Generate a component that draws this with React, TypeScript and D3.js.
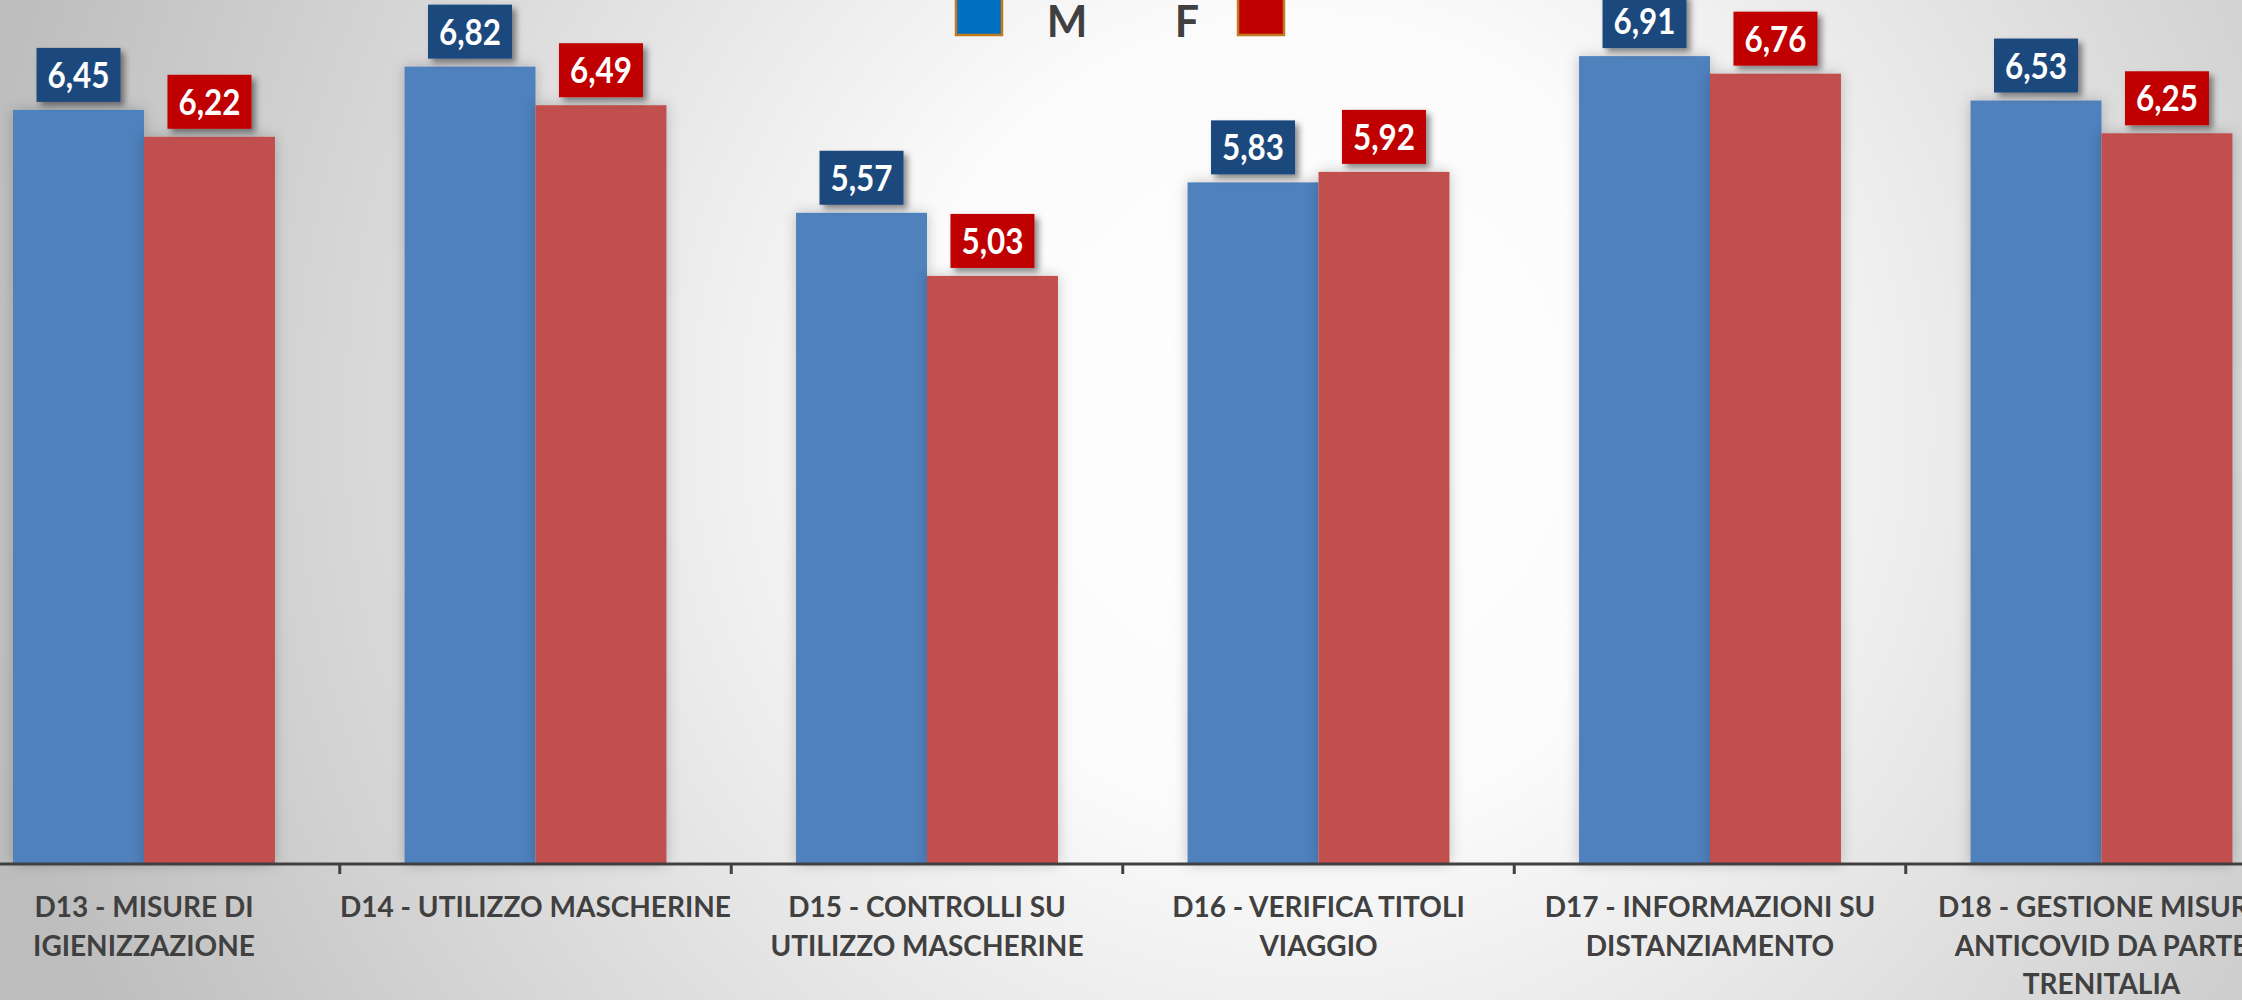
import React from 'react';
import * as d3 from 'd3';

// categories (label lines as they wrap on the axis)
const categories = ['D13', 'D14', 'D15', 'D16', 'D17', 'D18'];
const categoryLines = [
  ['D13 - MISURE DI', 'IGIENIZZAZIONE'],
  ['D14 - UTILIZZO MASCHERINE'],
  ['D15 - CONTROLLI SU', 'UTILIZZO MASCHERINE'],
  ['D16 - VERIFICA TITOLI', 'VIAGGIO'],
  ['D17 - INFORMAZIONI SU', 'DISTANZIAMENTO'],
  ['D18 - GESTIONE MISURE', 'ANTICOVID DA PARTE', 'TRENITALIA'],
];
const seriesKeys = ['M', 'F'];
const valuesM = [6.45, 6.82, 5.57, 5.83, 6.91, 6.53];
const valuesF = [6.22, 6.49, 5.03, 5.92, 6.76, 6.25];

const W = 2242;
const H = 1000;
const baseY = 864;

const barColor: Record<string, string> = { M: '#4F81BD', F: '#C0504D' };
const boxColor: Record<string, string> = { M: '#1F497D', F: '#C00000' };
const legendColor: Record<string, string> = { M: '#0070C0', F: '#C00000' };

const fmt = (v: number) => v.toFixed(2).replace('.', ',');

export default function App() {
  // the plot runs past the right edge of the picture, like the original crop
  const x = d3.scaleBand<string>()
    .domain(categories)
    .range([-51.75, 2297.25])
    .paddingInner(0.331)
    .paddingOuter(0.1655);

  const xs = d3.scaleBand<string>()
    .domain(seriesKeys)
    .range([0, x.bandwidth()]);

  const y = d3.scaleLinear().domain([0, 7.39]).range([baseY, 0]);

  const step = x.step();
  const gap = step - x.bandwidth();

  const rows = categories.map((c, i) => ({ c, M: valuesM[i], F: valuesF[i] }));

  const boxW = 84;
  const boxH = 54;

  return (
    <svg
      width={W}
      height={H}
      style={{ position: 'absolute', left: 0, top: 0 }}
      fontFamily="Lato, 'Open Sans', sans-serif"
    >
      <defs>
        <radialGradient id="bg" cx="1300" cy="420" r="1350" gradientUnits="userSpaceOnUse">
          <stop offset="0" stopColor="#ffffff" />
          <stop offset="0.3" stopColor="#fbfbfb" />
          <stop offset="1" stopColor="#bdbdbd" />
        </radialGradient>
        <filter id="barShadow" x="-20%" y="-10%" width="140%" height="120%">
          <feDropShadow dx="0" dy="0" stdDeviation="7" floodColor="#000" floodOpacity="0.22" />
        </filter>
        <filter id="boxShadow" x="-30%" y="-30%" width="160%" height="170%">
          <feDropShadow dx="4" dy="4" stdDeviation="3" floodColor="#000" floodOpacity="0.45" />
        </filter>
      </defs>

      <rect x={0} y={0} width={W} height={H} fill="url(#bg)" />

      {/* bars */}
      {rows.map(r => (
        <g key={r.c} transform={`translate(${x(r.c)},0)`}>
          {seriesKeys.map(k => {
            const v = (r as any)[k] as number;
            return (
              <rect
                key={k}
                x={xs(k)}
                y={y(v)}
                width={xs.bandwidth()}
                height={baseY - y(v)}
                fill={barColor[k]}
                filter="url(#barShadow)"
              />
            );
          })}
        </g>
      ))}

      {/* value boxes */}
      {rows.map(r => (
        <g key={r.c + '-lbl'} transform={`translate(${x(r.c)},0)`}>
          {seriesKeys.map(k => {
            const v = (r as any)[k] as number;
            const cx = (xs(k) || 0) + xs.bandwidth() / 2;
            const top = y(v) - 8 - boxH;
            return (
              <g key={k}>
                <rect
                  x={cx - boxW / 2}
                  y={top}
                  width={boxW}
                  height={boxH}
                  fill={boxColor[k]}
                  filter="url(#boxShadow)"
                />
                <text
                  x={cx}
                  y={top + boxH / 2 + 13}
                  textAnchor="middle"
                  fontSize={37}
                  fontWeight="bold"
                  fill="#fff"
                  textLength={62}
                  lengthAdjust="spacingAndGlyphs"
                >
                  {fmt(v)}
                </text>
              </g>
            );
          })}
        </g>
      ))}

      {/* axis */}
      <line x1={0} x2={W} y1={baseY} y2={baseY} stroke="#404040" strokeWidth={3} />
      {categories.slice(0, -1).map(c => {
        const tx = (x(c) || 0) + x.bandwidth() + gap / 2;
        return <line key={c + '-tick'} x1={tx} x2={tx} y1={baseY} y2={baseY + 10} stroke="#404040" strokeWidth={3} />;
      })}
      {categories.map((c, i) => (
        <text
          key={c + '-cat'}
          x={(x(c) || 0) + x.bandwidth() / 2}
          textAnchor="middle"
          fontSize={28}
          fontWeight="bold"
          fill="#404040"
        >
          {categoryLines[i].map((line, j) => (
            <tspan key={j} x={(x(c) || 0) + x.bandwidth() / 2} y={917 + j * 38.5}>{line}</tspan>
          ))}
        </text>
      ))}

      {/* legend */}
      <rect x={956} y={-14} width={46} height={49} fill={legendColor.M} stroke="#C07A1F" strokeWidth={2.5} />
      <text x={1067} y={37} textAnchor="middle" fontSize={43} fontWeight="bold" fill="#404040">M</text>
      <text x={1187} y={37} textAnchor="middle" fontSize={43} fontWeight="bold" fill="#404040">F</text>
      <rect x={1238} y={-14} width={46} height={49} fill={legendColor.F} stroke="#C07A1F" strokeWidth={2.5} />
    </svg>
  );
}
